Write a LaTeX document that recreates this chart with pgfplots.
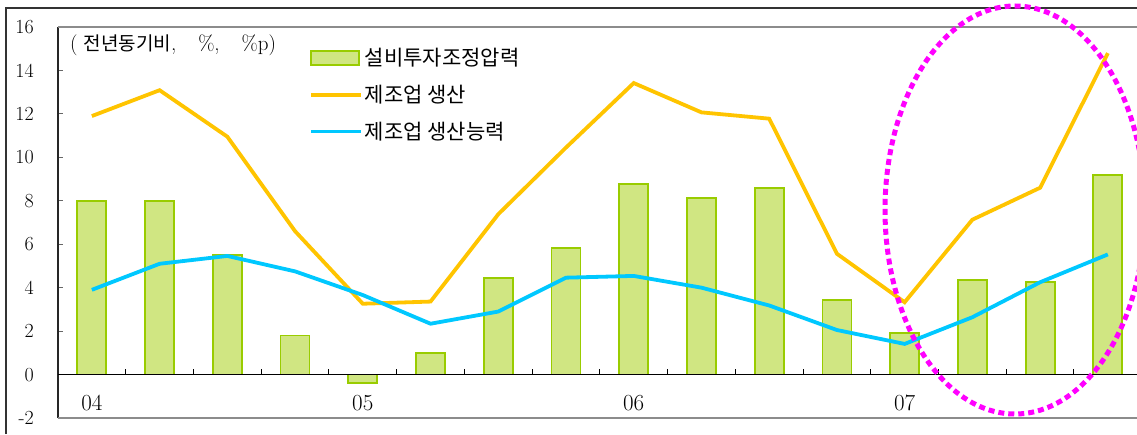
\documentclass[border=0pt]{standalone}
\usepackage{fontspec}
\usepackage{pgfplots}
\pgfplotsset{compat=1.18}
\newfontfamily\kr{Noto Sans CJK KR}
\definecolor{barfill}{RGB}{208,230,130}
\definecolor{baredge}{RGB}{153,204,0}
\definecolor{prodcol}{RGB}{255,196,0}
\definecolor{capcol}{RGB}{0,200,255}
\definecolor{ellcol}{RGB}{255,0,255}
\begin{document}
\begin{tikzpicture}[x=1pt,y=1pt]
\path[use as bounding box] (0,0) rectangle (1137,434);
\clip (0,0) rectangle (1137,434);
\draw[black!80, line width=1.2pt] (6,0) -- (6,426) -- (1137,426);
\begin{axis}[
  at={(58pt,16pt)}, anchor=south west, scale only axis,
  width=1079pt, height=391pt,
  xmin=-0.5, xmax=15.43, ymin=-2, ymax=16,
  axis line style={draw=none},
  xtick=\empty,
  ytick={-2,0,2,4,6,8,10,12,14,16},
  yticklabels={-2,0,2,4,6,8,10,12,14,16},
  ytick pos=left,
  tick align=inside, major tick length=5pt,
  ytick style={black!60, line width=1pt},
  yticklabel style={font=\fontsize{20}{20}\selectfont, inner sep=0pt, xshift=-24pt},
  clip=false,
  legend style={draw=none, fill=none, at={(0.2326,0.951)}, anchor=north west,
    font=\kr\fontsize{21}{24}\selectfont, row sep=14pt, inner sep=0pt,
    nodes={inner sep=2pt}},
  legend cell align=left,
]
\draw[black!85, line width=1.5pt] (rel axis cs:0,0) -- (rel axis cs:0,1);
\draw[black!45, line width=1.5pt] (rel axis cs:0,1) -- (rel axis cs:1,1);
\draw[black!45, line width=1.5pt] (rel axis cs:0,0) -- (rel axis cs:1,0);

\addlegendimage{legend image code/.code={\draw[fill=barfill, draw=baredge, line width=1.8pt] (0pt,-7pt) rectangle (48pt,7pt);}}
\addlegendentry{설비투자조정압력}
\addlegendimage{legend image code/.code={\draw[prodcol, line width=3.8pt] (0pt,0pt) -- (50pt,0pt);}}
\addlegendentry{제조업 생산}
\addlegendimage{legend image code/.code={\draw[capcol, line width=3.8pt] (0pt,0pt) -- (50pt,0pt);}}
\addlegendentry{제조업 생산능력}

\addplot[ybar, bar width=29pt, fill=barfill, draw=baredge, line width=1.8pt, forget plot]
coordinates {(0,8.0) (1,8.0) (2,5.5) (3,1.8) (4,-0.4) (5,1.0) (6,4.46) (7,5.84) (8,8.79) (9,8.14) (10,8.6) (11,3.45) (12,1.9) (13,4.37) (14,4.25) (15,9.2)};

\draw[black, line width=1pt] (axis cs:-0.5,0) -- (axis cs:15.43,0);
\pgfplotsinvokeforeach{0.5,1.5,...,14.5}{\draw[black, line width=1pt] (axis cs:#1,0) -- ++(0pt,6pt);}

\addplot[prodcol, line width=3.8pt, no marks, forget plot]
coordinates {(0,11.9) (1,13.09) (2,10.95) (3,6.6) (4,3.26) (5,3.36) (6,7.38) (7,10.45) (8,13.42) (9,12.07) (10,11.78) (11,5.56) (12,3.33) (13,7.13) (14,8.6) (15,14.8)};

\addplot[capcol, line width=3.8pt, no marks, forget plot]
coordinates {(0,3.9) (1,5.1) (2,5.46) (3,4.75) (4,3.66) (5,2.34) (6,2.9) (7,4.46) (8,4.54) (9,4.0) (10,3.18) (11,2.05) (12,1.41) (13,2.64) (14,4.25) (15,5.53)};

\node[font=\fontsize{23}{23}\selectfont] at (axis cs:0,-1.3) {04};
\node[font=\fontsize{23}{23}\selectfont] at (axis cs:4,-1.3) {05};
\node[font=\fontsize{23}{23}\selectfont] at (axis cs:8,-1.3) {06};
\node[font=\fontsize{23}{23}\selectfont] at (axis cs:12,-1.3) {07};
\end{axis}
\node[anchor=west, font=\fontsize{21}{21}\selectfont, inner sep=0pt] at (70,389) {(\hspace{6pt}{\kr\fontsize{19}{19}\selectfont 전년동기비},\hspace{22pt}\%,\hspace{22pt}\%p)};
\draw[ellcol, line width=5pt, dash pattern=on 6pt off 4pt] (1015,224) ellipse [x radius=130, y radius=204];
\end{tikzpicture}
\end{document}
